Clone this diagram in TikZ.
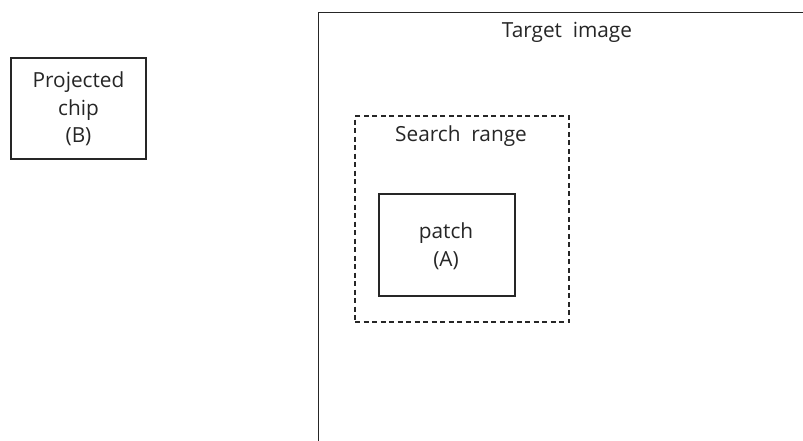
\documentclass[tikz,border=0pt]{standalone}
\usepackage{fontspec}
\setmainfont{Open Sans}[WordSpace=2]
\begin{document}
\begin{tikzpicture}[x=1pt,y=-1pt,
  box/.style={draw=black!85, line width=1.3pt, rectangle, inner sep=0pt},
  lbl/.style={font=\fontsize{20.8}{27.5}\selectfont, text=black!85, align=center, inner sep=0pt}]
\useasboundingbox (0,0) rectangle (803,440);
\node[box, minimum width=135pt, minimum height=101pt] (chip) at (78.5,108.5) {};
\node[lbl] (chiptxt) at (78.5,109) {Projected\\chip\\(B)};
\node[box, minimum width=520pt, minimum height=470pt, anchor=north west] (target) at (318,12) {};
\node[lbl] (targettxt) at (567,32) {Target image};
\node[box, dashed, dash pattern=on 5pt off 3.5pt, minimum width=214pt, minimum height=206pt] (search) at (462,219) {};
\node[lbl] (searchtxt) at (461,136) {Search range};
\node[box, minimum width=136pt, minimum height=102pt] (patch) at (447,245) {};
\node[lbl] (patchtxt) at (446,246) {patch\\(A)};
\end{tikzpicture}
\end{document}
